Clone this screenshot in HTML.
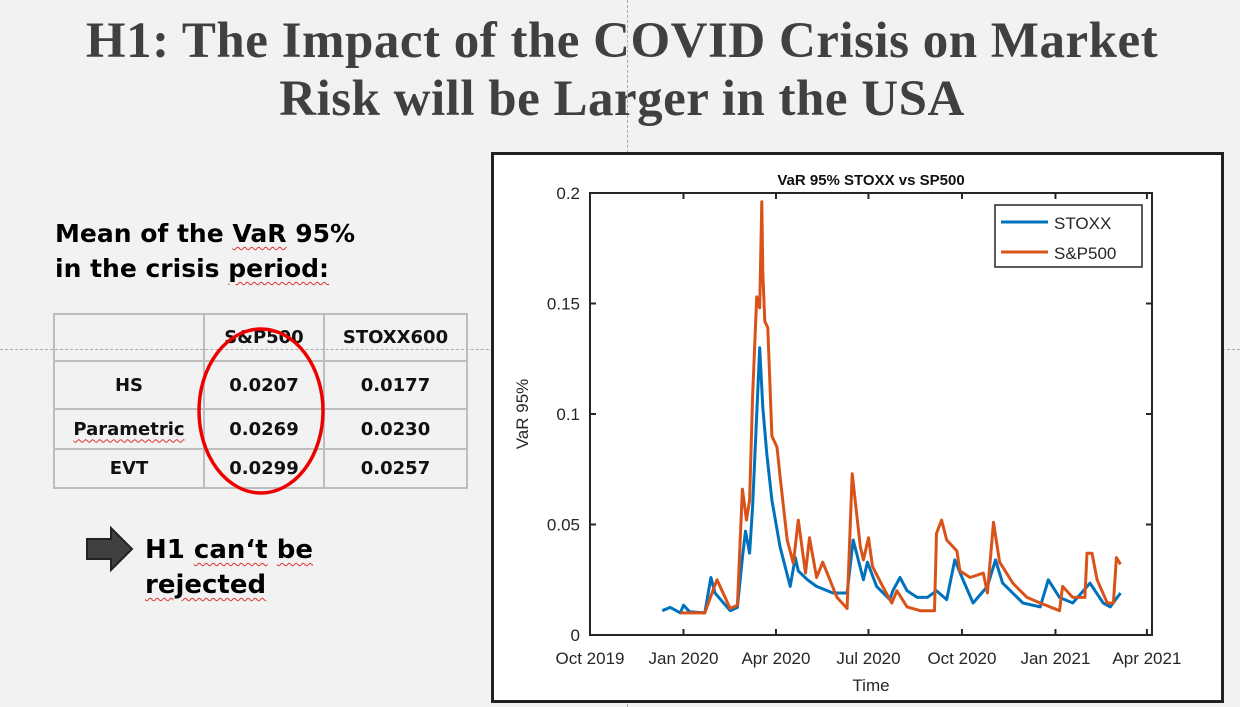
<!DOCTYPE html>
<html><head><meta charset="utf-8">
<style>
body{margin:0;width:1240px;height:707px;background:#f2f2f2;position:relative;overflow:hidden;font-family:"DejaVu Sans","Liberation Sans",sans-serif}
.t{position:absolute;left:0;width:1244px;text-align:center;font-family:"Liberation Serif",serif;font-weight:bold;color:#404040;font-size:51px;letter-spacing:0.5px}
.sq{text-decoration:underline wavy #e03030;text-decoration-thickness:1px;text-underline-offset:4px}
table{position:absolute;left:53px;top:313px;border-collapse:collapse;font-weight:bold;font-size:18px;color:#111}
td{border:2px solid #bdbdbd;text-align:center;padding:0}
</style></head><body>
<div class="t" style="top:12px">H1: The Impact of the COVID Crisis on Market</div>
<div class="t" style="top:70px">Risk will be Larger in the USA</div>
<div style="position:absolute;left:627px;top:0;height:707px;border-left:1px dashed #aaa"></div>
<div style="position:absolute;left:0;top:349px;width:1240px;border-top:1px dashed #aaa"></div>
<div style="position:absolute;left:55px;top:216px;font-size:25px;font-weight:bold;line-height:35px;color:#000">Mean of the <span class="sq">VaR</span> 95%<br>in the crisis <span class="sq">period:</span></div>
<table>
<tr style="height:47px"><td style="width:148px"></td><td style="width:118px">S&amp;P500</td><td style="width:141px">STOXX600</td></tr>
<tr style="height:48px"><td>HS</td><td>0.0207</td><td>0.0177</td></tr>
<tr style="height:40px"><td><span class="sq">Parametric</span></td><td>0.0269</td><td>0.0230</td></tr>
<tr style="height:39px"><td>EVT</td><td>0.0299</td><td>0.0257</td></tr>
</table>
<svg style="position:absolute;left:0;top:0" width="1240" height="707">
<ellipse cx="261" cy="411" rx="62" ry="82" fill="none" stroke="#e00" stroke-width="3.5"/>
<polygon points="87,539 111,539 111,528 132,549 111,570 111,559 87,559" fill="#404040" stroke="#222" stroke-width="2"/>
</svg>
<div style="position:absolute;left:145px;top:533px;font-size:26px;font-weight:bold;line-height:35px;color:#000">H1 <span class="sq">can‘t</span> <span class="sq">be</span><br><span class="sq">rejected</span></div>
<div style="position:absolute;left:491px;top:152px;width:727px;height:545px;border:3px solid #222;background:#fff"></div>
<svg id="chart" style="position:absolute;left:0;top:0" width="1240" height="707" font-family="Liberation Sans, sans-serif"></svg>
<script>
const xTickLabels=["Oct 2019","Jan 2020","Apr 2020","Jul 2020","Oct 2020","Jan 2021","Apr 2021"];
const xTickDays=[0,92,183,274,366,458,548];
const yTicks=[0,0.05,0.1,0.15,0.2];
const yTickLabels=["0","0.05","0.1","0.15","0.2"];
const stoxxDays=[71,79,89,92,98,113,119,123,138,145,150,153,157,160,167,170,174,179,182,187,197,202,205,214,223,239,253,259,269,273,282,295,298,305,312,322,332,341,351,359,367,377,391,399,406,426,443,451,462,475,492,505,512,522];
const stoxxVals=[0.011,0.0125,0.010,0.0135,0.0105,0.010,0.026,0.019,0.011,0.0125,0.035,0.047,0.037,0.058,0.130,0.103,0.082,0.061,0.053,0.040,0.022,0.035,0.029,0.025,0.022,0.019,0.019,0.043,0.025,0.033,0.022,0.016,0.020,0.026,0.020,0.017,0.017,0.020,0.016,0.034,0.025,0.0145,0.022,0.034,0.0235,0.0145,0.0127,0.025,0.017,0.0145,0.0235,0.0145,0.0127,0.019];
const spDays=[89,113,120,125,138,145,150,154,157,160,164,167,169,170,172,175,179,184,187,194,200,205,212,216,223,229,243,253,258,266,269,274,278,288,297,302,312,325,339,341,346,351,361,364,374,387,391,397,403,416,430,443,462,465,475,487,489,494,499,509,515,518,522];
const spVals=[0.010,0.010,0.019,0.025,0.012,0.0135,0.066,0.052,0.061,0.108,0.153,0.148,0.196,0.164,0.142,0.139,0.090,0.085,0.072,0.043,0.0325,0.052,0.028,0.044,0.026,0.033,0.017,0.012,0.073,0.040,0.034,0.044,0.031,0.022,0.0145,0.020,0.0127,0.011,0.011,0.046,0.052,0.043,0.038,0.029,0.026,0.028,0.019,0.051,0.033,0.0235,0.017,0.0145,0.011,0.022,0.017,0.017,0.037,0.037,0.025,0.0145,0.0145,0.035,0.032];
const L=590,R=1152,T=193,B=635,D0=0,D1=553;
const xs=d=>L+(d-D0)/(D1-D0)*(R-L);
const ys=v=>B-v/0.2*(B-T);
const svg=document.getElementById('chart');const NS='http://www.w3.org/2000/svg';
function mk(t,a,txt){const e=document.createElementNS(NS,t);for(const k in a)e.setAttribute(k,a[k]);if(txt!=null)e.textContent=txt;svg.appendChild(e);return e;}
let e=mk('rect',{x:L,y:T,width:R-L,height:B-T,fill:'#fff',stroke:'#262626','stroke-width':2});


xTickDays.forEach((d,i)=>{const x=xs(d);
 let t=mk('line',{x1:x,x2:x,y1:B,y2:B-6,stroke:'#262626','stroke-width':2});
 
 
 let t2=mk('line',{x1:x,x2:x,y1:T,y2:T+6,stroke:'#262626','stroke-width':2});
 
 
 let l=mk('text',{x:x,y:B+29,'text-anchor':'middle','font-size':17,fill:'#262626'},xTickLabels[i]);
 
 });
yTicks.forEach((v,i)=>{const y=ys(v);
 let t=mk('line',{x1:L,x2:L+6,y1:y,y2:y,stroke:'#262626','stroke-width':2});
 
 
 let t2=mk('line',{x1:R,x2:R-6,y1:y,y2:y,stroke:'#262626','stroke-width':2});
 
 
 let l=mk('text',{x:L-10,y:y+6,'text-anchor':'end','font-size':17,fill:'#262626'},yTickLabels[i]);
 
 });
function line(ds,vs,c,n){const p=ds.map((d,i)=>(i?'L':'M')+xs(d).toFixed(1)+','+ys(vs[i]).toFixed(1)).join('');
 const el=mk('path',{d:p,fill:'none',stroke:c,'stroke-width':3,'stroke-linejoin':'round'});
 
 }
line(stoxxDays,stoxxVals,'#0072bd','stoxx-line');
line(spDays,spVals,'#d95319','sp500-line');
e=mk('text',{x:871,y:185,'text-anchor':'middle','font-size':15,'font-weight':'bold',fill:'#111'},'VaR 95% STOXX vs SP500');


e=mk('text',{x:871,y:691,'text-anchor':'middle','font-size':17,fill:'#262626'},'Time');


e=mk('text',{x:528,y:414,'text-anchor':'middle','font-size':17,fill:'#262626',transform:'rotate(-90 528 414)'},'VaR 95%');


e=mk('rect',{x:995,y:205,width:147,height:62,fill:'#fff',stroke:'#262626','stroke-width':1.5});


e=mk('line',{x1:1001,x2:1048,y1:222,y2:222,stroke:'#0072bd','stroke-width':3});


e=mk('text',{x:1054,y:229,'font-size':17,fill:'#262626'},'STOXX');


e=mk('line',{x1:1001,x2:1048,y1:252,y2:252,stroke:'#d95319','stroke-width':3});


e=mk('text',{x:1054,y:259,'font-size':17,fill:'#262626'},'S&P500');


</script>
</body></html>
